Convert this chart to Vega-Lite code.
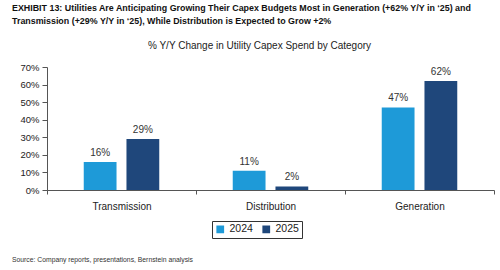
{
  "$schema": "https://vega.github.io/schema/vega-lite/v6.json",
  "background": "white",
  "padding": {"left": 12, "top": 4, "right": 6, "bottom": 6},
  "config": {"view": {"stroke": null}, "font": "Liberation Sans"},
  "title": {"text": "Source: Company reports, presentations, Bernstein analysis", "orient": "bottom", "anchor": "start", "fontSize": 6.8, "fontWeight": "normal", "color": "#333333", "font": "Liberation Sans", "offset": 18},
  "vconcat": [
    {
      "title": {"text": ["EXHIBIT 13: Utilities Are Anticipating Growing Their Capex Budgets Most in Generation (+62% Y/Y in \u201825) and", "Transmission (+29% Y/Y in \u201825), While Distribution is Expected to Grow +2%"], "anchor": "start", "fontSize": 8.9, "fontWeight": "bold", "color": "#111111", "font": "Liberation Sans", "lineHeight": 13, "offset": 15, "frame": "bounds"},
      "vconcat": [
        {
          "width": 447,
          "height": 123,
          "title": {"text": "% Y/Y Change in Utility Capex Spend by Category", "fontSize": 10, "fontWeight": "normal", "color": "#222222", "font": "Liberation Sans", "anchor": "middle", "offset": 11, "dx": -11},
          "data": {"values": [
            {"category": "Transmission", "year": "2024", "value": 0.16},
            {"category": "Transmission", "year": "2025", "value": 0.29},
            {"category": "Distribution", "year": "2024", "value": 0.11},
            {"category": "Distribution", "year": "2025", "value": 0.02},
            {"category": "Generation", "year": "2024", "value": 0.47},
            {"category": "Generation", "year": "2025", "value": 0.62}
          ]},
          "encoding": {
            "x": {"field": "category", "type": "nominal", "sort": null, "title": null,
                  "scale": {"paddingInner": 0, "paddingOuter": 0},
                  "axis": {"labelAngle": 0, "labelFontSize": 10, "labelColor": "#222222", "domainColor": "#555555", "tickColor": "#555555", "tickBand": "extent", "tickSize": 4, "labelPadding": 7, "domainWidth": 1.2}},
            "xOffset": {"field": "year", "type": "nominal", "scale": {"paddingInner": 0.2326, "paddingOuter": 0.86}},
            "y": {"field": "value", "type": "quantitative", "title": null,
                  "scale": {"domain": [0, 0.7]},
                  "axis": {"values": [0, 0.1, 0.2, 0.3, 0.4, 0.5, 0.6, 0.7], "format": ".0%", "grid": false, "labelFontSize": 9.5, "labelColor": "#222222", "domainColor": "#555555", "tickColor": "#555555", "tickSize": 5, "labelPadding": 3, "minExtent": 35, "maxExtent": 35}}
          },
          "layer": [
            {
              "mark": {"type": "bar"},
              "encoding": {
                "color": {"field": "year", "type": "nominal", "title": null,
                          "scale": {"domain": ["2024", "2025"], "range": ["#1e9ad8", "#1f477b"]},
                          "legend": {"orient": "none", "legendX": 165, "legendY": 154, "direction": "horizontal", "symbolType": "square", "symbolSize": 60, "labelFontSize": 10.5, "labelColor": "#222222", "strokeColor": "#333333", "padding": 3, "columnPadding": 8, "symbolStrokeWidth": 0}}
              }
            },
            {
              "mark": {"type": "text", "dy": -9, "fontSize": 10, "color": "#333333", "font": "Liberation Sans"},
              "encoding": {"text": {"field": "value", "type": "quantitative", "format": ".0%"}, "detail": {"field": "year"}}
            }
          ]
        }
      ]
    }
  ]
}
